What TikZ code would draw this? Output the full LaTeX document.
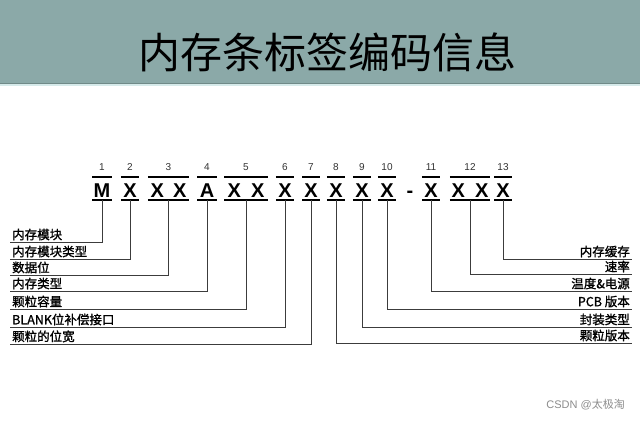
\documentclass[tikz,border=0pt]{standalone}
\usepackage{fontspec}
\setmainfont{Liberation Sans}
\newfontfamily\cjk{Noto Sans CJK SC}
\newfontfamily\cjkheavy[FakeBold=1.3]{Noto Sans CJK SC}
\usetikzlibrary{calc}
\definecolor{band}{RGB}{139,169,168}
\definecolor{bandline}{RGB}{112,138,136}
\definecolor{bandlight}{RGB}{214,234,234}
\definecolor{conncol}{RGB}{60,60,60}
\begin{document}
\begin{tikzpicture}[x=1pt,y=-1pt,
  code/.style={inner sep=0pt, minimum height=23pt, text height=21pt, text depth=2pt,
    font=\fontsize{20}{20}\selectfont\bfseries},
  bar/.style={line width=2pt, draw=black},
  num/.style={inner sep=0pt, font=\fontsize{10}{10}\selectfont, text=black!80},
  conn/.style={line width=0.9pt, draw=conncol},
  lab/.style={font=\cjkheavy\fontsize{12.5}{12.5}\selectfont, inner xsep=2pt, inner ysep=1.5pt}]
\useasboundingbox (0,0) rectangle (640,422);
\fill[white] (0,0) rectangle (640,422);
% header band
\fill[band] (0,0) rectangle (640,83);
\fill[bandlight] (0,83.5) rectangle (640,86);
\draw[bandline, line width=1pt] (0,83.5) -- (640,83.5);
\node[font=\cjk\fontsize{42}{42}\selectfont, inner sep=0pt] (title) at (327,52) {内存条标签编码信息};

% code groups
\node[code, minimum width=19pt] (g1) at (102,188.5) {M};
\node[code, minimum width=18pt] (g2) at (130,188.5) {X};
\node[code, minimum width=41pt] (g3) at (168.5,188.5) {X\kern9pt X};
\node[code, minimum width=19pt] (g4) at (207,188.5) {A};
\node[code, minimum width=43pt] (g5) at (246,188.5) {X\kern10pt X};
\node[code, minimum width=18pt] (g6) at (285,188.5) {X};
\node[code, minimum width=17pt] (g7) at (311,188.5) {X};
\node[code, minimum width=18pt] (g8) at (336,188.5) {X};
\node[code, minimum width=18pt] (g9) at (362,188.5) {X};
\node[code, minimum width=18pt] (g10) at (387,188.5) {X};
\node[code] (dash) at (410,188.5) {-};
\node[code, minimum width=18pt] (g11) at (431,188.5) {X};
\node[code, minimum width=40pt] (g12) at (470,188.5) {X\kern10pt X};
\node[code, minimum width=17pt] (g13) at (503,188.5) {X};

\foreach \g in {g1,g2,g3,g4,g5,g6,g7,g8,g9,g10,g11,g12,g13}{
  \draw[bar] (\g.north west) -- (\g.north east);
  \draw[bar] (\g.south west) -- (\g.south east);
}

% position numbers
\foreach \g/\n in {g1/1,g2/2,g3/3,g4/4,g5/5,g6/6,g7/7,g8/8,g9/9,g10/10,g11/11,g12/12,g13/13}{
  \node[num] (n\n) at ($(\g.north)+(0,-9.5)$) {\n};
}

% left labels
\node[lab, anchor=south west] (L1) at (10,242) {内存模块};
\node[lab, anchor=south west] (L2) at (10,259) {内存模块类型};
\node[lab, anchor=south west] (L3) at (10,275) {数据位};
\node[lab, anchor=south west] (L4) at (10,291) {内存类型};
\node[lab, anchor=south west] (L5) at (10,309) {颗粒容量};
\node[lab, anchor=south west] (L6) at (10,327) {BLANK位补偿接口};
\node[lab, anchor=south west] (L7) at (10,344) {颗粒的位宽};

% right labels
\node[lab, anchor=south east] (R1) at (632,259) {内存缓存};
\node[lab, anchor=south east] (R2) at (632,274) {速率};
\node[lab, anchor=south east] (R3) at (632,291) {温度\&电源};
\node[lab, anchor=south east] (R4) at (632,309) {PCB 版本};
\node[lab, anchor=south east] (R5) at (632,327) {封装类型};
\node[lab, anchor=south east] (R6) at (632,343) {颗粒版本};

% connectors
\draw[conn] (g1.south) |- (L1.south west);
\draw[conn] (g2.south) |- (L2.south west);
\draw[conn] (g3.south) |- (L3.south west);
\draw[conn] (g4.south) |- (L4.south west);
\draw[conn] (g5.south) |- (L5.south west);
\draw[conn] (g6.south) |- (L6.south west);
\draw[conn] (g7.south) |- (L7.south west);
\draw[conn] (g13.south) |- (R1.south east);
\draw[conn] (g12.south) |- (R2.south east);
\draw[conn] (g11.south) |- (R3.south east);
\draw[conn] (g10.south) |- (R4.south east);
\draw[conn] (g9.south) |- (R5.south east);
\draw[conn] (g8.south) |- (R6.south east);

% watermark
\node[anchor=east, inner sep=0pt, text=black!45, font=\fontsize{11}{11}\selectfont] (wm) at (625,405) {CSDN @{\cjk 太极淘}};
\end{tikzpicture}
\end{document}
